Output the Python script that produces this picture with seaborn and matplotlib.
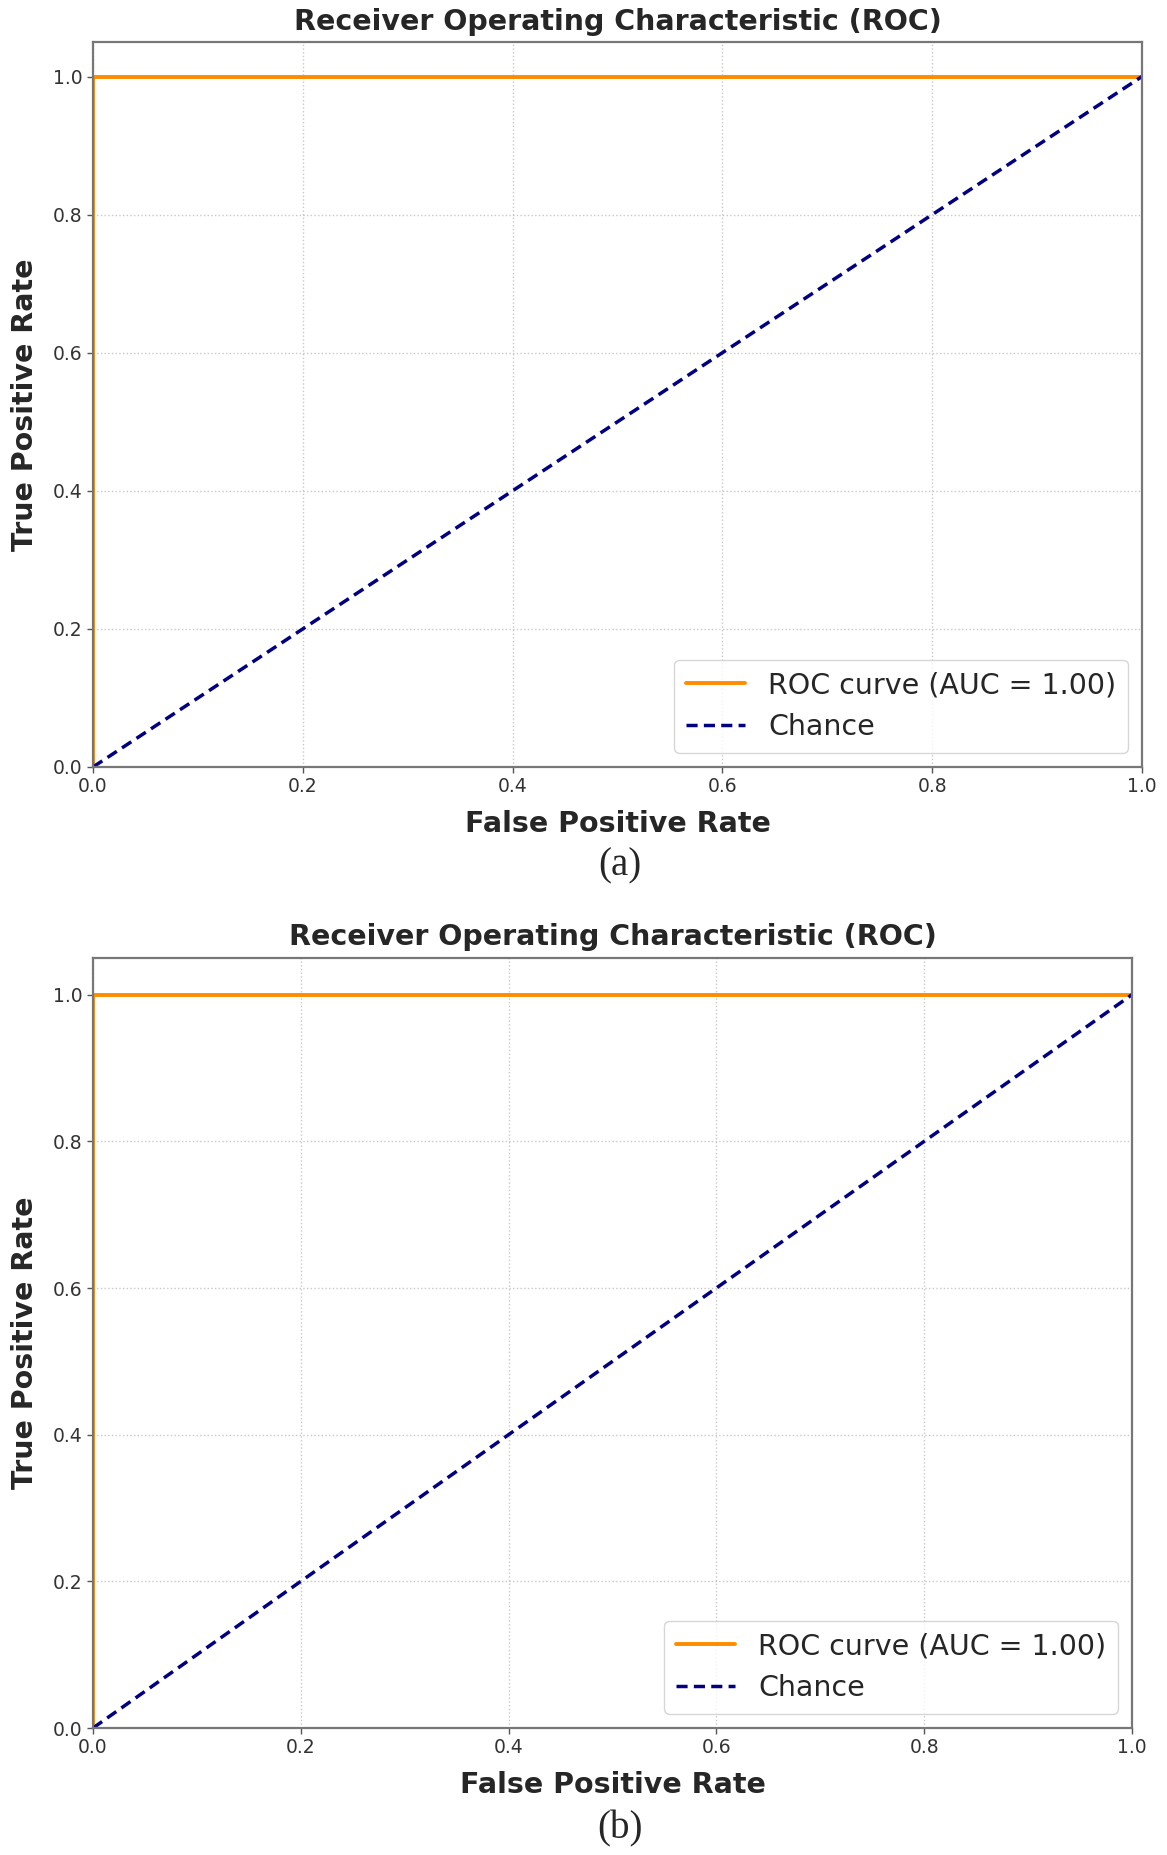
import matplotlib
matplotlib.use("Agg")
import matplotlib.pyplot as plt
import numpy as np
import pandas as pd
import seaborn as sns

# ROC data (both panels are a perfect classifier)
fpr = [0.0, 0.0, 1.0]
tpr = [0.0, 1.0, 1.0]
chance_x = [0.0, 1.0]
chance_y = [0.0, 1.0]
auc_value = 1.00
ticks = [0.0, 0.2, 0.4, 0.6, 0.8, 1.0]
panel_labels = ["(a)", "(b)"]

sns.set_style("white")
plt.rcParams["font.family"] = ["DejaVu Sans"]

W, H = 1167, 1855
fig = plt.figure(figsize=(W / 100, H / 100), dpi=100)

# axes boxes in pixels: left, top, right, bottom
boxes = [(93, 42, 1142, 767), (93, 958, 1132, 1728)]
caption_y = [866, 1829]

roc = pd.DataFrame({"fpr": fpr, "tpr": tpr})
chance = pd.DataFrame({"x": chance_x, "y": chance_y})

for (l, t, r, b), cap, cy in zip(boxes, panel_labels, caption_y):
    ax = fig.add_axes([l / W, 1 - b / H, (r - l) / W, (b - t) / H])
    sns.lineplot(data=roc, x="fpr", y="tpr", sort=False, estimator=None,
                 color="darkorange", lw=2.8,
                 label=f"ROC curve (AUC = {auc_value:.2f})", ax=ax)
    sns.lineplot(data=chance, x="x", y="y", sort=False, estimator=None,
                 color="navy", lw=2.5, ax=ax, label="Chance")
    ax.lines[-1].set_dashes((3.2, 1.8))
    ax.set_xlim(0.0, 1.0)
    ax.set_ylim(0.0, 1.05)
    ax.set_xticks(ticks)
    ax.set_yticks(ticks)
    ax.tick_params(labelsize=13.5, labelcolor="#333333", color="#555555",
                   length=4, width=1, bottom=True, left=True)
    ax.grid(True, linestyle=":", linewidth=1, color="#bbbbbb", alpha=0.8)
    for sp in ax.spines.values():
        sp.set_color("#777777")
        sp.set_linewidth(1.6)
    ax.set_title("Receiver Operating Characteristic (ROC)",
                 fontsize=20.5, fontweight="bold", pad=9)
    ax.set_xlabel("False Positive Rate", fontsize=20.5, fontweight="bold",
                  labelpad=10)
    ax.set_ylabel("True Positive Rate", fontsize=20.5, fontweight="bold",
                  labelpad=10)
    leg = ax.legend(loc="lower right", fontsize=20.5, handlelength=2.1)
    leg.get_frame().set_edgecolor("#cccccc")
    leg.get_lines()[-1].set_dashes((3.2, 1.8))
    fig.text(0.531, 1 - cy / H, cap, ha="center", va="center",
             fontsize=28, family="Liberation Serif")

fig.savefig("out.png", dpi=100)
